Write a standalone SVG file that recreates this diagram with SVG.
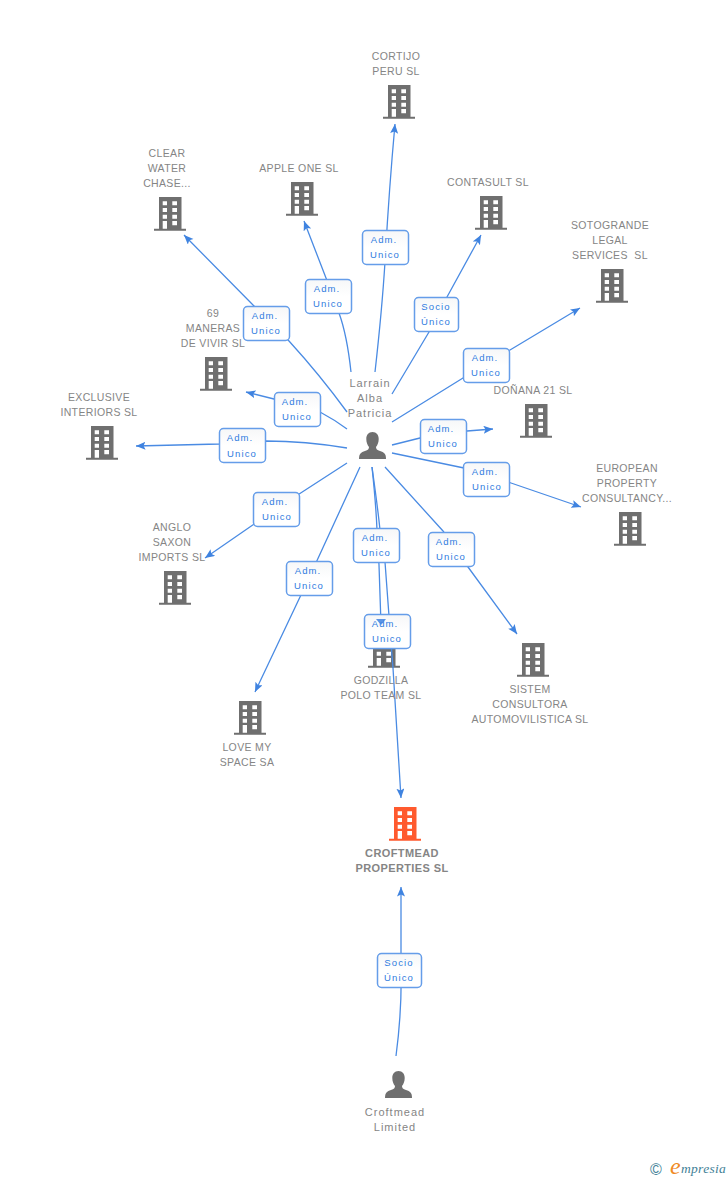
<svg xmlns="http://www.w3.org/2000/svg" width="728" height="1180" viewBox="0 0 728 1180">
<style>
.l{fill:none;stroke:#4a8be3;stroke-width:1.3}
.a{fill:#3f83e0}
.t{font:10.5px "Liberation Sans",Arial,sans-serif;fill:#858585;text-anchor:middle;letter-spacing:.35px}
.p{font:11px "Liberation Sans",Arial,sans-serif;fill:#858585;text-anchor:middle;letter-spacing:1px}
.b{font:bold 11px "Liberation Sans",Arial,sans-serif;fill:#858585;text-anchor:middle;letter-spacing:.4px}
.r{fill:url(#g);stroke:#659de9;stroke-width:1.5}
.k{font:9.5px "Liberation Sans",Arial,sans-serif;fill:#2f7be0;text-anchor:middle;letter-spacing:1.1px}
</style>
<defs>
<linearGradient id="g" x1="0" y1="0" x2="0" y2="1"><stop offset="0" stop-color="#f6f7f8"/><stop offset=".5" stop-color="#ffffff"/></linearGradient>
<symbol id="bld" width="32" height="34" viewBox="0 0 32 34" overflow="visible">
<path fill-rule="evenodd" d="M5 0H27.500V31.700H32V33.800H0V31.700H5ZM8.700 4.300V8.300H13V4.300ZM18.300 4.300V8.300H23V4.300ZM8.700 11V15H13V11ZM18.300 11V15H23V11ZM8.700 17.700V21.700H13V17.700ZM18.300 17.700V21.700H23V17.700ZM8.700 24V31.700H13V24ZM18.300 24V28.300H23V24Z"/>
</symbol>
<symbol id="per" width="27" height="27" viewBox="0 0 27 27" overflow="visible">
<path d="M13.500 0C17.500 0 19.700 3 19.700 7C19.700 10.500 18.500 13 17 15C17 17 18 18 21 19C25 20.300 27 21.500 27 27H0C0 21.500 2 20.300 6 19C9 18 10 17 10 15C8.500 13 7.300 10.500 7.300 7C7.300 3 9.500 0 13.500 0Z"/>
</symbol>
<marker id="m" markerWidth="11" markerHeight="9" refX="9.500" refY="4" orient="auto" markerUnits="userSpaceOnUse"><path class="a" d="M0 0L9.500 4L0 8L2 4Z"/></marker>
</defs>

<g id="connectors">
<path class="l" marker-end="url(#m)" d="M375 372Q382 310 385 262Q389 190 395 124"/>
<path class="l" marker-end="url(#m)" d="M351 372Q347 335 339 313L326 278L304 221"/>
<path class="l" marker-end="url(#m)" d="M347 412Q320 375 289 341L254 306L184 235"/>
<path class="l" marker-end="url(#m)" d="M392 394L429 332L447 297L481 235"/>
<path class="l" marker-end="url(#m)" d="M392 422L463 378L510 350L580 308"/>
<path class="l" marker-end="url(#m)" d="M392 445L420 438L467 431L493 429"/>
<path class="l" marker-end="url(#m)" d="M392 453L464 468L511 483L581 507"/>
<path class="l" marker-end="url(#m)" d="M385 467L443 531L468 567L517 634"/>
<path class="l" marker-end="url(#m)" d="M347 429Q335 420 320 412L274 399L246 392"/>
<path class="l" marker-end="url(#m)" d="M347 448Q305 441 266 441L219 444L136 446"/>
<path class="l" marker-end="url(#m)" d="M347 463L276 509L205 558"/>
<path class="l" marker-end="url(#m)" d="M360 467L309 578L255 692"/>
<path class="l" marker-end="url(#m)" d="M372 467Q376 505 377 530L379 565L381 625"/>
<path class="l" marker-end="url(#m)" d="M372 467Q378 510 380 530L385 562L389 616L393 668L401 798"/>
<path class="l" marker-end="url(#m)" d="M396 1056Q402 1010 401 970L401 887"/>
</g>

<g id="n1" fill="#6f6f6f"><use href="#bld" x="383" y="85"/><text class="t" x="396" y="60">CORTIJO</text><text class="t" x="396" y="75">PERU SL</text></g>
<g id="n2" fill="#6f6f6f"><use href="#bld" x="154" y="197"/><text class="t" x="167" y="157">CLEAR</text><text class="t" x="167" y="172">WATER</text><text class="t" x="167" y="187">CHASE...</text></g>
<g id="n3" fill="#6f6f6f"><use href="#bld" x="286" y="182"/><text class="t" x="299" y="172">APPLE ONE SL</text></g>
<g id="n4" fill="#6f6f6f"><use href="#bld" x="475" y="196"/><text class="t" x="488" y="186">CONTASULT SL</text></g>
<g id="n5" fill="#6f6f6f"><use href="#bld" x="596" y="269"/><text class="t" x="610" y="229">SOTOGRANDE</text><text class="t" x="610" y="244">LEGAL</text><text class="t" x="610" y="259" xml:space="preserve">SERVICES  SL</text></g>
<g id="n6" fill="#6f6f6f"><use href="#bld" x="200" y="357"/><text class="t" x="213" y="317">69</text><text class="t" x="213" y="332">MANERAS</text><text class="t" x="213" y="347">DE VIVIR SL</text></g>
<g id="n7" fill="#6f6f6f"><use href="#bld" x="520" y="404"/><text class="t" x="533" y="394">DOÑANA 21 SL</text></g>
<g id="n8" fill="#6f6f6f"><use href="#bld" x="86" y="426"/><text class="t" x="99" y="401">EXCLUSIVE</text><text class="t" x="99" y="416">INTERIORS SL</text></g>
<g id="n9" fill="#6f6f6f"><use href="#bld" x="614" y="512"/><text class="t" x="627" y="472">EUROPEAN</text><text class="t" x="627" y="487">PROPERTY</text><text class="t" x="627" y="502">CONSULTANCY...</text></g>
<g id="n10" fill="#6f6f6f"><use href="#bld" x="159" y="571"/><text class="t" x="172" y="531">ANGLO</text><text class="t" x="172" y="546">SAXON</text><text class="t" x="172" y="561">IMPORTS SL</text></g>
<g id="n11" fill="#6f6f6f"><use href="#bld" x="368" y="634"/><text class="t" x="381" y="684">GODZILLA</text><text class="t" x="381" y="699">POLO TEAM SL</text></g>
<g id="n12" fill="#6f6f6f"><use href="#bld" x="517" y="643"/><text class="t" x="530" y="693">SISTEM</text><text class="t" x="530" y="708">CONSULTORA</text><text class="t" x="530" y="723">AUTOMOVILISTICA SL</text></g>
<g id="n13" fill="#6f6f6f"><use href="#bld" x="234" y="701"/><text class="t" x="247" y="751">LOVE MY</text><text class="t" x="247" y="766">SPACE SA</text></g>
<g id="n14" fill="#ff5a2e"><use href="#bld" x="389" y="807"/><text class="b" x="402" y="857">CROFTMEAD</text><text class="b" x="402" y="872">PROPERTIES SL</text></g>
<g id="n15" fill="#6f6f6f"><use href="#per" x="359" y="432"/><text class="p" x="370" y="387">Larrain</text><text class="p" x="370" y="402">Alba</text><text class="p" x="370" y="417">Patricia</text></g>
<g id="n16" fill="#6f6f6f"><use href="#per" x="385" y="1071"/><text class="p" x="395" y="1116">Croftmead</text><text class="p" x="395" y="1131">Limited</text></g>

<g id="labels">
<g id="e1"><rect class="r" x="362.500" y="230.500" width="46" height="34" rx="4"/><text class="k" x="384" y="243">Adm.</text><text class="k" x="385" y="258">Unico</text></g>
<g id="e2"><rect class="r" x="305.500" y="279.500" width="46" height="34" rx="4"/><text class="k" x="327" y="292">Adm.</text><text class="k" x="328" y="307">Unico</text></g>
<g id="e3"><rect class="r" x="243.500" y="306.500" width="46" height="34" rx="4"/><text class="k" x="265" y="319">Adm.</text><text class="k" x="266" y="334">Unico</text></g>
<g id="e4"><rect class="r" x="414.500" y="297.500" width="44" height="34" rx="4"/><text class="k" x="436" y="310">Socio</text><text class="k" x="436" y="325">Único</text></g>
<g id="e5"><rect class="r" x="463.500" y="348.500" width="46" height="34" rx="4"/><text class="k" x="485" y="361">Adm.</text><text class="k" x="486" y="376">Unico</text></g>
<g id="e6"><rect class="r" x="274.500" y="392.500" width="46" height="34" rx="4"/><text class="k" x="295" y="405">Adm.</text><text class="k" x="297" y="420">Unico</text></g>
<g id="e7"><rect class="r" x="420.500" y="419.500" width="46" height="34" rx="4"/><text class="k" x="441" y="432">Adm.</text><text class="k" x="443" y="447">Unico</text></g>
<g id="e8"><rect class="r" x="219.500" y="428.500" width="46" height="34" rx="4"/><text class="k" x="240" y="441">Adm.</text><text class="k" x="242" y="457">Unico</text></g>
<g id="e9"><rect class="r" x="463.500" y="462.500" width="46" height="34" rx="4"/><text class="k" x="485" y="475">Adm.</text><text class="k" x="487" y="490">Unico</text></g>
<g id="e10"><rect class="r" x="253.500" y="492.500" width="46" height="34" rx="4"/><text class="k" x="275" y="505">Adm.</text><text class="k" x="277" y="520">Unico</text></g>
<g id="e11"><rect class="r" x="428.500" y="532.500" width="46" height="34" rx="4"/><text class="k" x="449" y="545">Adm.</text><text class="k" x="451" y="560">Unico</text></g>
<g id="e12"><rect class="r" x="353.500" y="528.500" width="46" height="34" rx="4"/><text class="k" x="375" y="541">Adm.</text><text class="k" x="376" y="556">Unico</text></g>
<g id="e13"><rect class="r" x="286.500" y="561.500" width="46" height="34" rx="4"/><text class="k" x="308" y="574">Adm.</text><text class="k" x="309" y="589">Unico</text></g>
<g id="e14"><rect class="r" x="364.500" y="614.500" width="46" height="34" rx="4"/><text class="k" x="385" y="627">Adm.</text><text class="k" x="387" y="642">Unico</text></g>
<g id="e15"><rect class="r" x="377.500" y="953.500" width="44" height="34" rx="4"/><text class="k" x="399" y="966">Socio</text><text class="k" x="399" y="981">Único</text></g>
</g>
<path class="a" opacity=".85" d="M376 619H386L381 625Z"/>
<line class="l" x1="391.500" y1="649" x2="393" y2="668"/>

<g id="logo"><text x="650" y="1175" font-family="'Liberation Sans',sans-serif" font-size="16" fill="#3f7f96">©</text><text x="670" y="1174" font-family="'Liberation Serif',serif" font-style="italic" font-size="24" fill="#f08a24">e</text><text x="681" y="1173" font-family="'Liberation Serif',serif" font-style="italic" font-size="13.500" letter-spacing=".3" fill="#3f7f96">mpresia</text></g>
</svg>
